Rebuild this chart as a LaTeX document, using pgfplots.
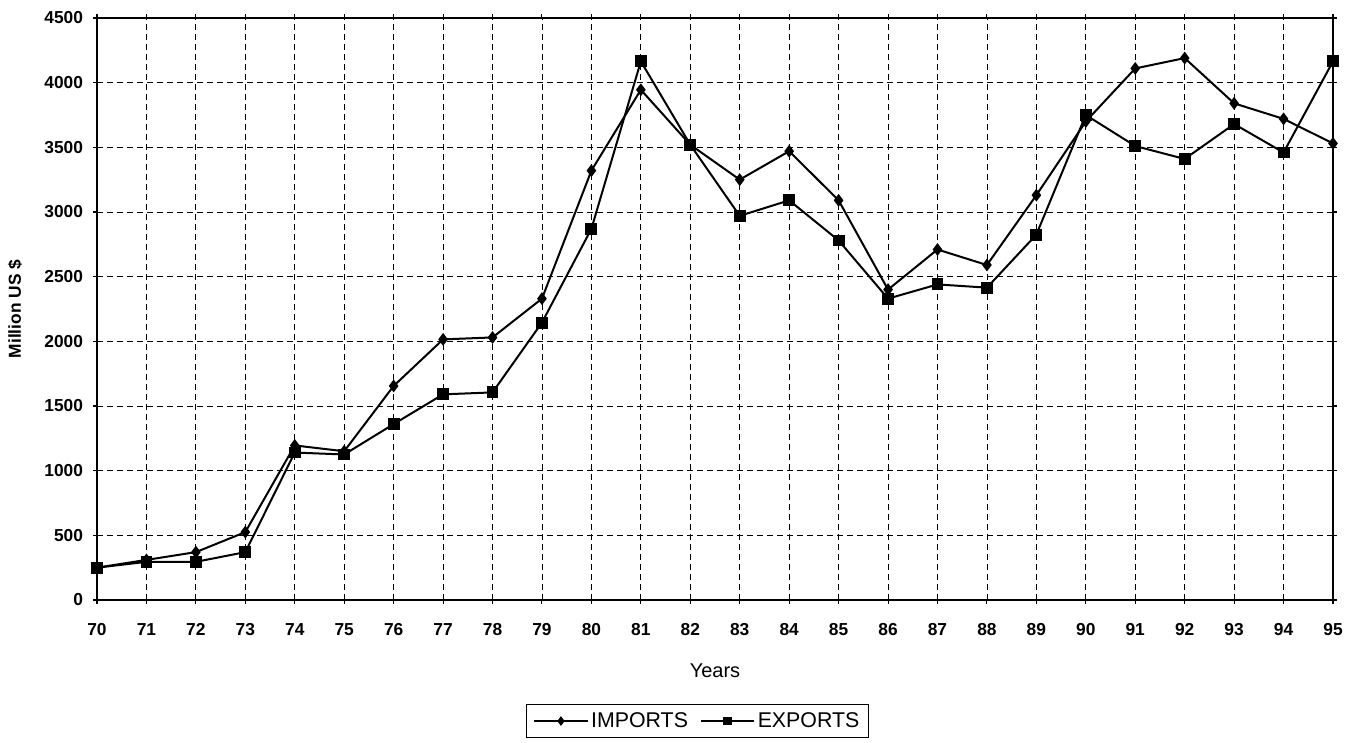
\documentclass[border=0pt]{standalone}
\usepackage{pgfplots}
\pgfplotsset{compat=1.18}
\usepackage{fontspec}
\setmainfont{Liberation Sans}
\begin{document}
\begin{tikzpicture}
\begin{axis}[
  name=ax,
  scale only axis,
  width=927pt, height=436.5pt,
  xmin=70, xmax=95, ymin=0, ymax=4500,
  xtick={70,...,95},
  ytick={0,500,...,4500},
  grid=major,
  major grid style={black, dash pattern=on 4.5pt off 3pt, line width=0.6pt},
  axis line style={black, line width=1.1pt},
  tick style={black, line width=0.8pt},
  tick align=outside,
  major tick length=3pt,
  /pgf/number format/assume math mode=true,
  /pgf/number format/1000 sep={},
  ticklabel style={font=\fontsize{13}{15}\selectfont\bfseries},
  xticklabel style={anchor=base, yshift=-24pt},
  yticklabel style={anchor=east, xshift=-4pt},
  xlabel={Years},
  ylabel={\bfseries Million US \$},
  xlabel style={font=\fontsize{15}{17}\selectfont, at={(axis description cs:0.5,0)}, anchor=center, yshift=-53pt},
  ylabel style={font=\fontsize{13}{15}\selectfont, at={(axis description cs:0,0.5)}, anchor=center, yshift=61.5pt},
  legend columns=2,
  legend image code/.code={\draw[mark repeat=2,mark phase=2,#1] plot coordinates {(0cm,0cm) (0.7cm,0cm) (1.4cm,0cm)};},
  legend image post style={mark size=2.4pt},
  legend style={at={(0.486,0)}, anchor=north, yshift=-78pt, draw=black, line width=0.9pt,
    font=\fontsize{16}{18}\selectfont, inner xsep=5pt, inner ysep=4pt,
    /tikz/every even column/.append style={column sep=7pt}},
  legend cell align=left,
  clip=false,
]
\addplot[black, line width=1.5pt, mark=diamond*, mark size=3.6pt, mark options={solid}] coordinates {
(70,250) (71,310) (72,370) (73,525) (74,1195) (75,1150) (76,1655) (77,2015) (78,2030) (79,2330)
(80,3320) (81,3945) (82,3520) (83,3250) (84,3470) (85,3090) (86,2400) (87,2710) (88,2590) (89,3130)
(90,3700) (91,4110) (92,4190) (93,3840) (94,3720) (95,3530)};
\addlegendentry{IMPORTS}
\addplot[black, line width=1.5pt, mark=square*, mark size=3.7pt, mark options={solid}] coordinates {
(70,250) (71,295) (72,295) (73,370) (74,1140) (75,1125) (76,1360) (77,1590) (78,1605) (79,2145)
(80,2870) (81,4165) (82,3520) (83,2970) (84,3090) (85,2780) (86,2330) (87,2440) (88,2415) (89,2825)
(90,3750) (91,3510) (92,3410) (93,3680) (94,3460) (95,4165)};
\addlegendentry{EXPORTS}
\end{axis}
\pgfresetboundingbox
\path ([shift={(-72.75pt,-107.25pt)}]ax.south west) rectangle ([shift={(20.25pt,13.5pt)}]ax.north east);
\end{tikzpicture}
\end{document}
